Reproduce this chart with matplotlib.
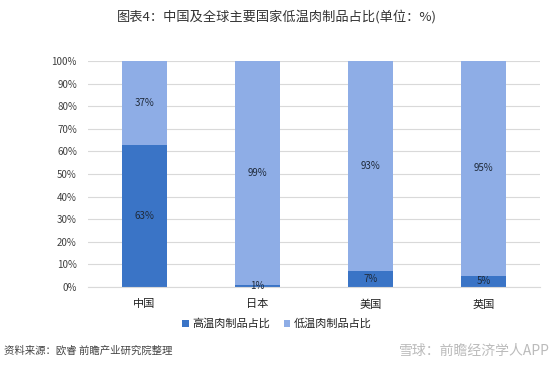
import numpy as np
import matplotlib
matplotlib.use("Agg")
import matplotlib.pyplot as plt

plt.rcParams["font.family"] = ["Noto Sans CJK SC", "DejaVu Sans"]

# Data.
countries = ["中国", "日本", "美国", "英国"]
high_temp = [63, 1, 7, 5]
low_temp = [37, 99, 93, 95]
series_names = ["高温肉制品占比", "低温肉制品占比"]
yticks = [0, 10, 20, 30, 40, 50, 60, 70, 80, 90, 100]

dark_blue = "#3A74C6"
light_blue = "#8EADE6"
text_color = "#404040"
label_color = "#1f2a3a"

fig = plt.figure(figsize=(5.54, 3.70), dpi=100)
ax = fig.add_axes([88 / 554, 1 - 287 / 370, 452 / 554, 226 / 370])

x = np.arange(len(countries))
width = 0.4
ax.bar(x, high_temp, width, color=dark_blue, label=series_names[0], zorder=2)
ax.bar(x, low_temp, width, bottom=high_temp, color=light_blue,
    label=series_names[1], zorder=2)

# Value labels, centred in each segment.
for i in range(len(countries)):
    ax.text(x[i], high_temp[i] / 2, f"{high_temp[i]}%", ha="center",
        va="center", fontsize=7, color=label_color, zorder=3)
    ax.text(x[i], high_temp[i] + low_temp[i] / 2, f"{low_temp[i]}%",
        ha="center", va="center", fontsize=7, color=label_color, zorder=3)

ax.set_xlim(-0.5, len(countries) - 0.5)
ax.set_ylim(0, 100)
ax.set_yticks(yticks)
ax.set_yticklabels([f"{v}%" for v in yticks], fontsize=7, color=text_color)
ax.set_xticks(x)
ax.set_xticklabels(countries, fontsize=8, color="#222222")
ax.tick_params(axis="y", length=0, pad=8)
ax.tick_params(axis="x", length=0, pad=9)
ax.grid(axis="y", color="#d9d9d9", linewidth=0.8, zorder=0)
for side in ["top", "right", "left"]:
    ax.spines[side].set_visible(False)
ax.spines["bottom"].set_color("#d9d9d9")

fig.legend(loc="center", bbox_to_anchor=(0.5, 1 - 324 / 370), ncol=2,
    frameon=False, fontsize=8, handlelength=0.6, handleheight=0.6,
    handletextpad=0.3, columnspacing=1.2, labelcolor="#222222")

fig.text(0.5, 1 - 17 / 370, "图表4：中国及全球主要国家低温肉制品占比(单位：%)",
    ha="center", va="center", fontsize=9.5, color="#333333")
fig.text(4 / 554, 1 - 351 / 370, "资料来源：欧睿 前瞻产业研究院整理",
    ha="left", va="center", fontsize=7.5, color="#444444", style="italic")
fig.text(550 / 554, 1 - 351 / 370, "雪球：前瞻经济学人APP",
    ha="right", va="center", fontsize=10, color="#bbbbbb")

fig.savefig("out.png", dpi=100)
